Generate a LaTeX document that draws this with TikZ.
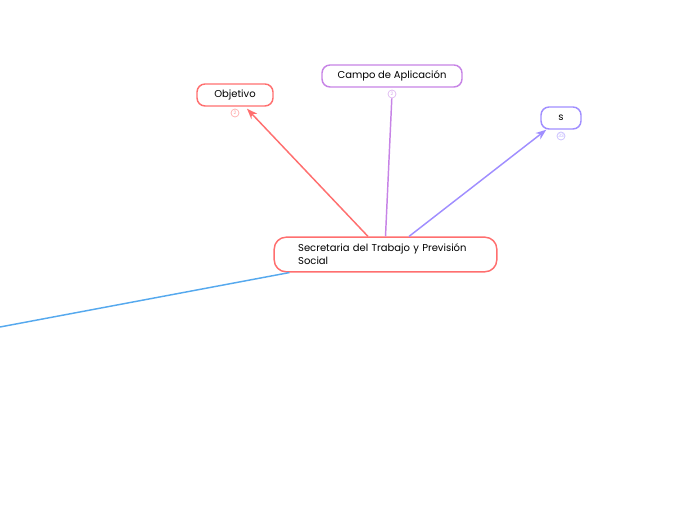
\documentclass[tikz,border=0pt]{standalone}
\usepackage{fontspec}
\setmainfont{Poppins}
\usepackage{tikz}
\usetikzlibrary{arrows.meta, positioning, calc}

\definecolor{topicred}{HTML}{FF6F6F}
\definecolor{topicviolet}{HTML}{C784E6}
\definecolor{topiclav}{HTML}{A08EFF}
\definecolor{topicblue}{HTML}{56A9EE}

\begin{document}
\begin{tikzpicture}[
    x=0.75pt, y=-0.75pt,
    >=Stealth,
    topic/.style={rectangle, draw=#1, line width=1.1pt, rounded corners=6pt, fill=white,
                  minimum height=16.5pt, align=center, font=\fontsize{7.5}{9.75}\selectfont},
    counter/.style={circle, draw=#1!60, text=#1!70, line width=0.5pt, fill=white,
                    inner sep=0pt, minimum size=6pt, font=\fontsize{3.5}{4}\selectfont},
    link/.style={line width=1.1pt, draw=#1}
]
\useasboundingbox (0,0) rectangle (697,520);

\node[topic=topicred, minimum width=167pt, minimum height=26pt, rounded corners=9pt,
      align=left, text width=131pt] (central) at (385.5,254.5)
    {Secretaria del Trabajo y Previsión\\Social};

\node[topic=topicred, minimum width=57pt] (objetivo) at (235,95) {Objetivo};
\node[counter=topicred] (objcount) at (235,113) {2};

\node[topic=topicviolet, minimum width=105pt] (campo) at (392,76) {Campo de Aplicación};
\node[counter=topicviolet] (campocount) at (392,94) {2};

\node[topic=topiclav, minimum width=30pt] (s) at (561,118) {s};
\node[counter=topiclav] (scount) at (561,136) {33};

% connectors from the central topic
\draw[link=topicred, ->] ($(central.north)+(-17.5,0)$) -- ($(objetivo.south)+(12,2)$);
\draw[link=topicviolet] (central.north) -- (campocount);
\draw[link=topiclav, ->] ($(central.north)+(23.5,0)$) -- ($(s.south west)+(6,0)$);

\coordinate (offpage) at (0,327);
\draw[link=topicblue] ($(central.south west)+(16,0)$) -- (offpage);
\end{tikzpicture}
\end{document}
